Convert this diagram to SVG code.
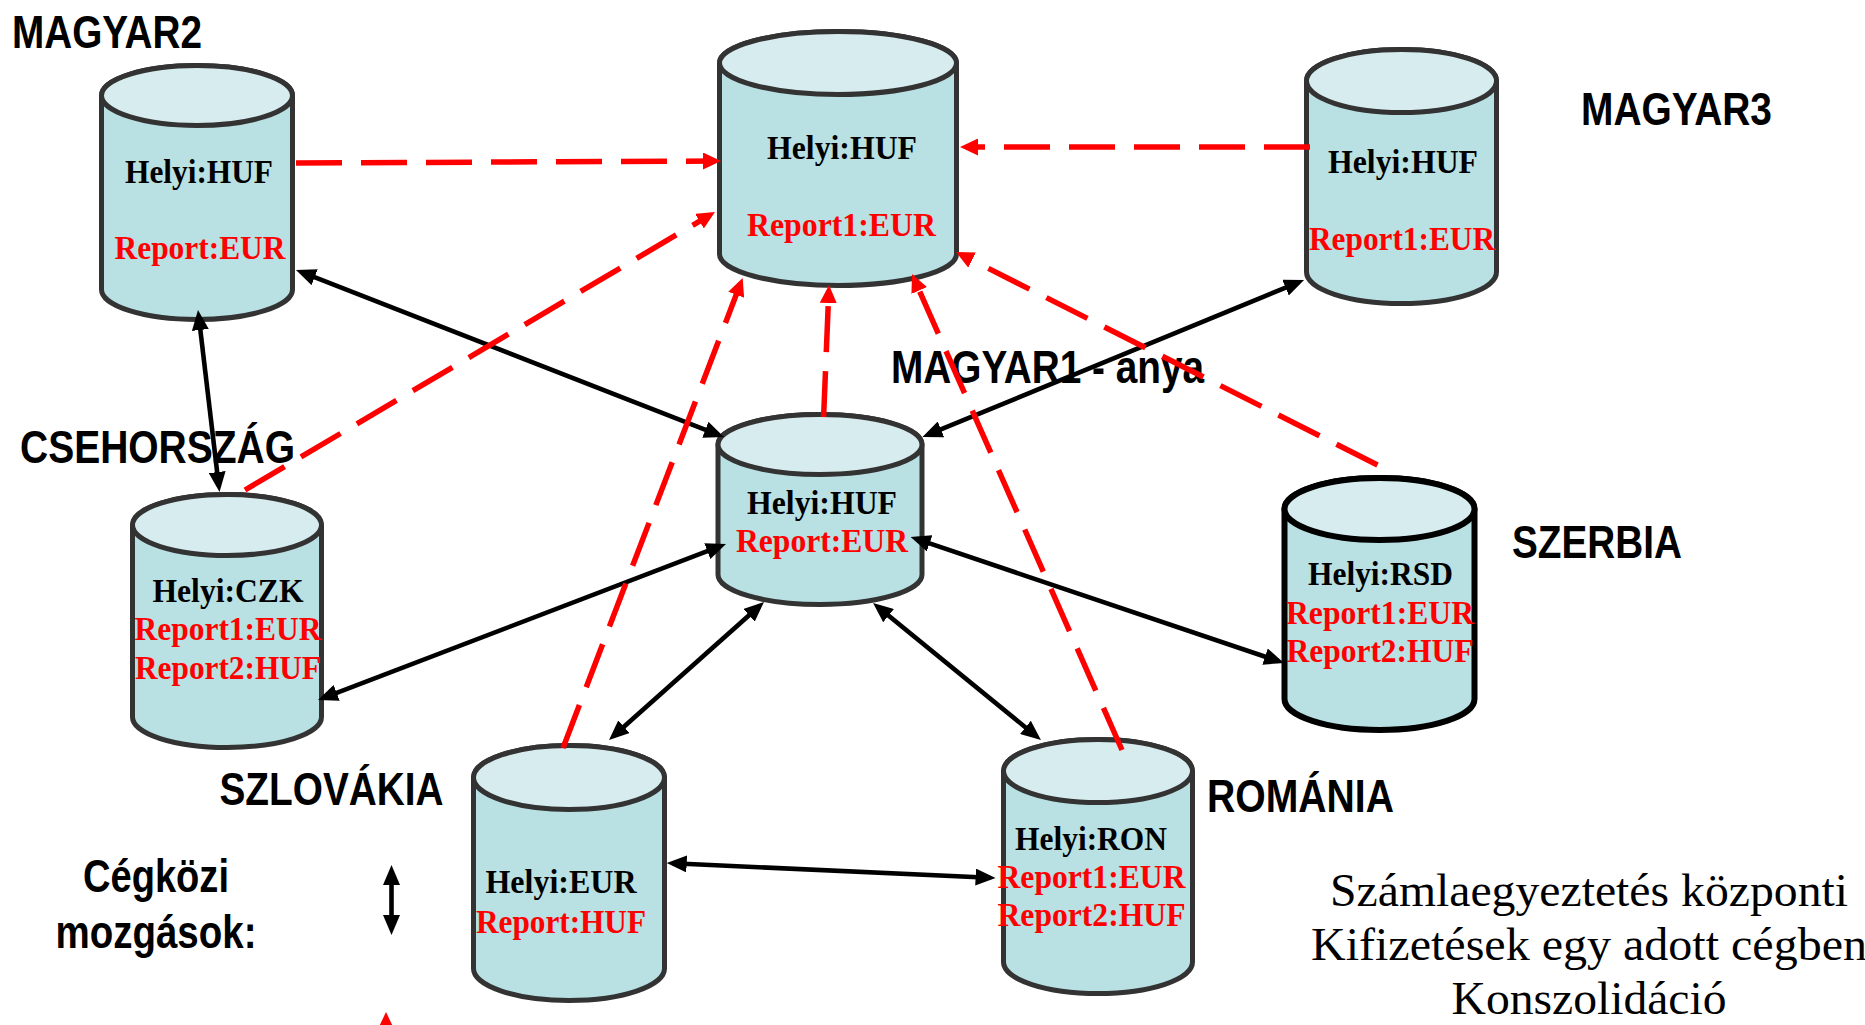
<svg xmlns="http://www.w3.org/2000/svg" width="1865" height="1025" viewBox="0 0 1865 1025">
<style>
.body{fill:#b9e0e3;stroke:#333;stroke-width:5}
.top{fill:#d7ecef;stroke:#333;stroke-width:5}
.dk .body,.dk .top{stroke:#000;stroke-width:6}
.in{font-family:"Liberation Serif","Times New Roman",serif;font-weight:bold;font-size:33px;text-anchor:middle}
.b{fill:#000}
.r{fill:#ff0000}
.lbl{font-family:"Liberation Sans",Arial,sans-serif;font-weight:bold;font-size:46px;fill:#000}
.mid{text-anchor:middle}
.note{font-family:"Liberation Serif","Times New Roman",serif;font-size:46px;fill:#000;text-anchor:middle}
.blk{fill:none;stroke:#000;stroke-width:4.6;marker-start:url(#ab);marker-end:url(#ab)}
.dash{fill:none;stroke:#ff0000;stroke-width:5.5;stroke-dasharray:46 19;marker-end:url(#ar)}
</style>
<defs>
<marker id="ab" markerUnits="userSpaceOnUse" viewBox="0 0 20 17" markerWidth="20" markerHeight="17" refX="14" refY="8.5" orient="auto-start-reverse"><path d="M0,0 L20,8.5 L0,17 z" fill="#000"/></marker>
<marker id="ar" markerUnits="userSpaceOnUse" viewBox="0 0 18 17" markerWidth="18" markerHeight="17" refX="12" refY="8.5" orient="auto"><path d="M0,0 L18,8.5 L0,17 z" fill="#ff0000"/></marker>
</defs>
<rect width="1865" height="1025" fill="#fff"/>

<g id="node-magyar2">
<path class="body" d="M101.5,95.5 L101.5,289.5 A95.5,30 0 0 0 292.5,289.5 L292.5,95.5 A95.5,30 0 0 0 101.5,95.5 Z"/>
<ellipse class="top" cx="197" cy="95.5" rx="95.5" ry="30"/>
<text class="in b" x="199" y="183" textLength="148" lengthAdjust="spacingAndGlyphs">Helyi:HUF</text>
<text class="in r" x="200" y="259" textLength="171" lengthAdjust="spacingAndGlyphs">Report:EUR</text>
<text class="lbl" x="12" y="48" textLength="190" lengthAdjust="spacingAndGlyphs">MAGYAR2</text>
</g>

<g id="node-kozpont">
<path class="body" d="M719.5,63 L719.5,254 A118.5,31.5 0 0 0 956.5,254 L956.5,63 A118.5,31.5 0 0 0 719.5,63 Z"/>
<ellipse class="top" cx="838" cy="63" rx="118.5" ry="31.5"/>
<text class="in b" x="842" y="159" textLength="150" lengthAdjust="spacingAndGlyphs">Helyi:HUF</text>
<text class="in r" x="841.5" y="236" textLength="189" lengthAdjust="spacingAndGlyphs">Report1:EUR</text>
</g>

<g id="node-magyar3">
<path class="body" d="M1306.5,81 L1306.5,272 A95,31.5 0 0 0 1496.5,272 L1496.5,81 A95,31.5 0 0 0 1306.5,81 Z"/>
<ellipse class="top" cx="1401.5" cy="81" rx="95" ry="31.5"/>
<text class="in b" x="1403" y="173" textLength="150" lengthAdjust="spacingAndGlyphs">Helyi:HUF</text>
<text class="in r" x="1402" y="250" textLength="186" lengthAdjust="spacingAndGlyphs">Report1:EUR</text>
<text class="lbl" x="1581" y="125" textLength="191" lengthAdjust="spacingAndGlyphs">MAGYAR3</text>
</g>

<g id="node-magyar1">
<path class="body" d="M718,444.5 L718,574.5 A102,30 0 0 0 922,574.5 L922,444.5 A102,30 0 0 0 718,444.5 Z"/>
<ellipse class="top" cx="820" cy="444.5" rx="102" ry="30"/>
<text class="in b" x="822" y="514" textLength="150" lengthAdjust="spacingAndGlyphs">Helyi:HUF</text>
<text class="in r" x="822" y="552" textLength="172" lengthAdjust="spacingAndGlyphs">Report:EUR</text>
<text class="lbl" x="891" y="383" textLength="313" lengthAdjust="spacingAndGlyphs">MAGYAR1 - anya</text>
</g>

<g id="node-csehorszag">
<path class="body" d="M132.5,525 L132.5,717 A94.5,30.5 0 0 0 321.5,717 L321.5,525 A94.5,30.5 0 0 0 132.5,525 Z"/>
<ellipse class="top" cx="227" cy="525" rx="94.5" ry="30.5"/>
<text class="in b" x="228" y="602" textLength="151" lengthAdjust="spacingAndGlyphs">Helyi:CZK</text>
<text class="in r" x="228" y="640" textLength="187" lengthAdjust="spacingAndGlyphs">Report1:EUR</text>
<text class="in r" x="228" y="679" textLength="186" lengthAdjust="spacingAndGlyphs">Report2:HUF</text>
<text class="lbl" x="20" y="463" textLength="275" lengthAdjust="spacingAndGlyphs">CSEHORSZÁG</text>
</g>

<g id="node-szerbia" class="dk">
<path class="body" d="M1284.5,509 L1284.5,699 A95,31 0 0 0 1474.5,699 L1474.5,509 A95,31 0 0 0 1284.5,509 Z"/>
<ellipse class="top" cx="1379.5" cy="509" rx="95" ry="31"/>
<text class="in b" x="1380.5" y="585" textLength="145" lengthAdjust="spacingAndGlyphs">Helyi:RSD</text>
<text class="in r" x="1380" y="624" textLength="188" lengthAdjust="spacingAndGlyphs">Report1:EUR</text>
<text class="in r" x="1380" y="662" textLength="187" lengthAdjust="spacingAndGlyphs">Report2:HUF</text>
<text class="lbl" x="1512" y="558" textLength="170" lengthAdjust="spacingAndGlyphs">SZERBIA</text>
</g>

<g id="node-szlovakia">
<path class="body" d="M473.5,777.5 L473.5,968.5 A95.5,32 0 0 0 664.5,968.5 L664.5,777.5 A95.5,32 0 0 0 473.5,777.5 Z"/>
<ellipse class="top" cx="569" cy="777.5" rx="95.5" ry="32"/>
<text class="in b" x="561" y="893" textLength="151" lengthAdjust="spacingAndGlyphs">Helyi:EUR</text>
<text class="in r" x="561" y="933" textLength="170" lengthAdjust="spacingAndGlyphs">Report:HUF</text>
<text class="lbl" x="219.5" y="805" textLength="224" lengthAdjust="spacingAndGlyphs">SZLOVÁKIA</text>
</g>

<g id="node-romania">
<path class="body" d="M1003.5,771 L1003.5,962 A94.5,31.5 0 0 0 1192.5,962 L1192.5,771 A94.5,31.5 0 0 0 1003.5,771 Z"/>
<ellipse class="top" cx="1098" cy="771" rx="94.5" ry="31.5"/>
<text class="in b" x="1091" y="850" textLength="152" lengthAdjust="spacingAndGlyphs">Helyi:RON</text>
<text class="in r" x="1091.5" y="888" textLength="188" lengthAdjust="spacingAndGlyphs">Report1:EUR</text>
<text class="in r" x="1091.5" y="926" textLength="188" lengthAdjust="spacingAndGlyphs">Report2:HUF</text>
<text class="lbl" x="1207" y="812" textLength="187" lengthAdjust="spacingAndGlyphs">ROMÁNIA</text>
</g>

<g id="legend">
<text class="lbl mid" x="156" y="892" textLength="146" lengthAdjust="spacingAndGlyphs">Cégközi</text>
<text class="lbl mid" x="156" y="948" textLength="201" lengthAdjust="spacingAndGlyphs">mozgások:</text>
<line class="blk" x1="391.5" y1="871" x2="391.5" y2="929"/>
<polygon points="386,1012 377.5,1030 394.5,1030" fill="#ff0000"/>
</g>

<g id="notes">
<text class="note" x="1589" y="906" textLength="518" lengthAdjust="spacingAndGlyphs">Számlaegyeztetés központi</text>
<text class="note" x="1589" y="960" textLength="556" lengthAdjust="spacingAndGlyphs">Kifizetések egy adott cégben</text>
<text class="note" x="1589" y="1014" textLength="275" lengthAdjust="spacingAndGlyphs">Konszolidáció</text>
</g>

<g id="connectors">
<line class="blk" x1="301.6" y1="272.2" x2="718.4" y2="434.8"/>
<line class="blk" x1="198.7" y1="316" x2="218.8" y2="486"/>
<line class="blk" x1="1298.5" y1="282.3" x2="928" y2="434.7"/>
<line class="blk" x1="323.6" y1="697.9" x2="720.4" y2="546.1"/>
<line class="blk" x1="613.5" y1="736" x2="759.5" y2="606"/>
<line class="blk" x1="1036.3" y1="736.2" x2="877.7" y2="606.8"/>
<line class="blk" x1="1278.3" y1="661.1" x2="916.3" y2="538.9"/>
<line class="blk" x1="672.7" y1="863.3" x2="989.6" y2="877.7"/>
<line class="dash" x1="296" y1="163" x2="715" y2="161"/>
<line class="dash" x1="1310" y1="147" x2="966" y2="147"/>
<line class="dash" x1="245" y1="490" x2="709.8" y2="215.1"/>
<line class="dash" x1="563" y1="748" x2="740.5" y2="283.6"/>
<line class="dash" x1="823.6" y1="417" x2="828.8" y2="291"/>
<line class="dash" x1="1122" y1="750" x2="914.4" y2="279.5"/>
<line class="dash" x1="1377.5" y1="465" x2="961.4" y2="254.7"/>
</g>
</svg>
